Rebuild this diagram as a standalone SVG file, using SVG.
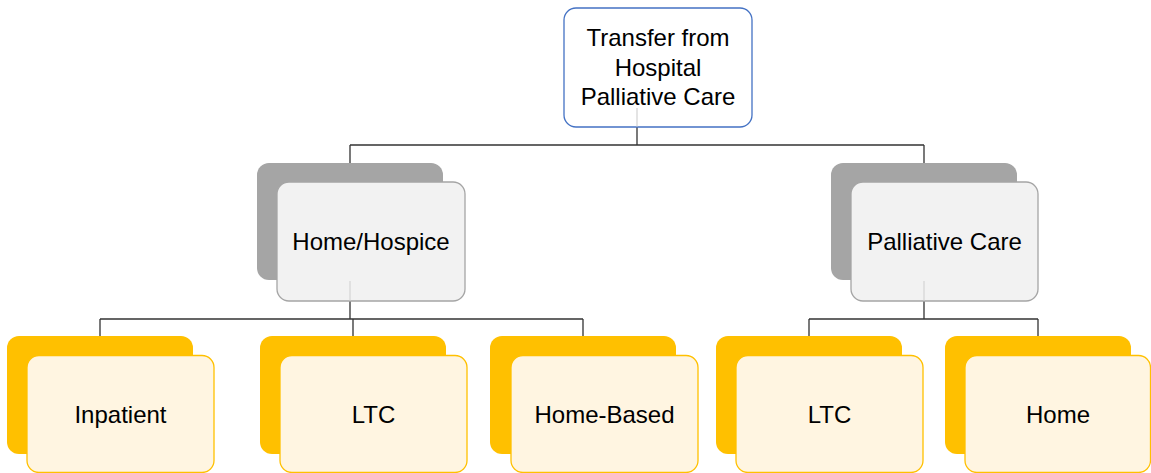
<svg xmlns="http://www.w3.org/2000/svg" width="1151" height="473" viewBox="0 0 1151 473">
<style>
text{font-family:"Liberation Sans",Arial,sans-serif;font-size:24px;fill:#000;text-anchor:middle}
.conn{fill:none;stroke:#333;stroke-width:1.3}
.faint{fill:none;stroke:#D6D6D6;stroke-width:1.3}
.gback{fill:#A5A5A5}
.gfront{fill:#F2F2F2;stroke:#A5A5A5;stroke-width:1.3}
.yback{fill:#FFC000}
.yfront{fill:#FFF5E1;stroke:#FFC000;stroke-width:1.3}
.top{fill:#FFF;stroke:#4472C4;stroke-width:1.3}
</style>
<rect width="1151" height="473" fill="#FFF"/>
<g id="backs">
<rect class="gback" x="257" y="163" width="186" height="117" rx="12"/>
<rect class="gback" x="831" y="163" width="186" height="117" rx="12"/>
<rect class="yback" x="7" y="336" width="186" height="118" rx="12"/>
<rect class="yback" x="260" y="336" width="186" height="118" rx="12"/>
<rect class="yback" x="490" y="336" width="186" height="118" rx="12"/>
<rect class="yback" x="716" y="336" width="186" height="118" rx="12"/>
<rect class="yback" x="945" y="336" width="186" height="118" rx="12"/>
</g>
<g id="connectors">
<path class="conn" d="M637,127 V145 M350,145 H924 M350,145 V163 M924,145 V163"/>
<path class="conn" d="M350,301 V319 M100,319 H583 M100,319 V336 M353,319 V336 M583,319 V336"/>
<path class="conn" d="M924,301 V319 M809,319 H1038 M809,319 V336 M1038,319 V336"/>
</g>
<g id="node-top">
<rect class="top" x="564" y="8" width="188" height="119" rx="12"/>
<text x="658" y="46">Transfer from</text>
<text x="658" y="75.5">Hospital</text>
<text x="658" y="105">Palliative Care</text>
</g>
<g id="node-home-hospice">
<rect class="gfront" x="277" y="182" width="188" height="119" rx="12"/>
<text x="371" y="249.5">Home/Hospice</text>
</g>
<g id="node-palliative-care">
<rect class="gfront" x="851" y="182" width="187" height="119" rx="12"/>
<text x="944.5" y="249.5">Palliative Care</text>
</g>
<g id="connector-ends">
<path class="faint" d="M637,108 V126.5 M350,281 V300.5 M924,281 V300.5"/>
</g>
<g id="node-inpatient">
<rect class="yfront" x="27" y="355.5" width="187" height="117" rx="12"/>
<text x="120.5" y="422.5">Inpatient</text>
</g>
<g id="node-ltc-1">
<rect class="yfront" x="280" y="355.5" width="187" height="117" rx="12"/>
<text x="373.5" y="422.5">LTC</text>
</g>
<g id="node-home-based">
<rect class="yfront" x="511" y="355.5" width="187" height="117" rx="12"/>
<text x="604.5" y="422.5">Home-Based</text>
</g>
<g id="node-ltc-2">
<rect class="yfront" x="736" y="355.5" width="187" height="117" rx="12"/>
<text x="829.5" y="422.5">LTC</text>
</g>
<g id="node-home">
<rect class="yfront" x="965" y="355.5" width="185.5" height="117" rx="12"/>
<text x="1058" y="422.5">Home</text>
</g>
</svg>
